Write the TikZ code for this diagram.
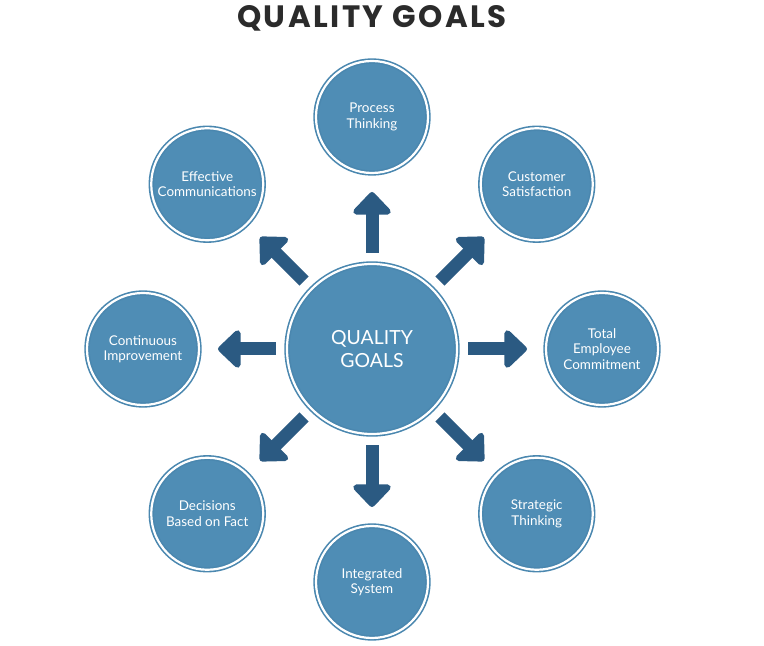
\documentclass[tikz,border=0pt]{standalone}
\usepackage{fontspec}
\setmainfont{Lato}
\newfontfamily\titlefont[LetterSpace=8]{Poppins}
\usepackage{xcolor}
\usepackage{tikz}
\usetikzlibrary{arrows.meta}

\definecolor{goalblue}{HTML}{4F8DB5}
\definecolor{ringblue}{HTML}{4A87AF}
\definecolor{arrowblue}{HTML}{2B5A82}
\definecolor{titlegray}{HTML}{2B2B2B}

\tikzset{
	goal/.style={circle, fill=goalblue, draw=ringblue, double=white, double distance=2.2bp, line width=1.6bp,
		minimum size=112bp, inner sep=0pt, align=center, text=white, font=\fontsize{13.5}{15.5}\selectfont},
	hub/.style={goal, minimum size=170bp, font=\fontsize{19.5}{23}\selectfont},
	ray/.style={arrowblue, line width=13bp, -{Triangle[length=24bp, width=44bp, round]}, shorten <=96bp, shorten >=75bp}
}

\begin{document}
\begin{tikzpicture}[x=1bp, y=1bp]
	\useasboundingbox (-372,-297) rectangle (392,349);

	\node[font=\titlefont\fontsize{31}{34}\bfseries\selectfont, text=titlegray] (title) at (0,331) {QUALITY GOALS};

	\node[hub] (qg) at (0,0) {QUALITY\\GOALS};

	\node[goal] (pt) at (90:232) {Process\\Thinking};
	\node[goal] (cs) at (45:233) {Customer\\Satisfaction};
	\node[goal] (tec) at (0:230) {Total\\Employee\\Commitment};
	\node[goal] (st) at (-45:233) {Strategic\\Thinking};
	\node[goal] (is) at (-90:233) {Integrated\\System};
	\node[goal] (dbf) at (-135:233) {Decisions\\Based on Fact};
	\node[goal] (ci) at (180:229) {Continuous\\Improvement};
	\node[goal] (ec) at (135:233) {Effective\\Communications};

	\foreach \g in {pt,cs,tec,st,is,dbf,ci,ec}
		\draw[ray] (qg.center) -- (\g.center);

\end{tikzpicture}
\end{document}
